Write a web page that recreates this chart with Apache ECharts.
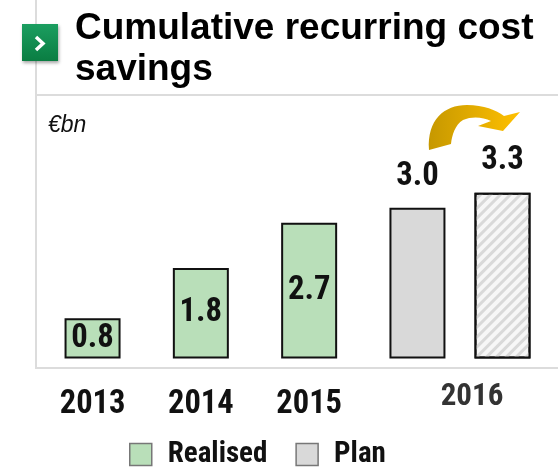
<!DOCTYPE html>
<html>
<head>
<meta charset="utf-8">
<script src="https://cdn.jsdelivr.net/npm/echarts@6/dist/echarts.min.js"></script>
<style>
  html, body { margin: 0; padding: 0; background: #fff; }
  #chart { width: 558px; height: 469px; }
</style>
</head>
<body>
<div id="chart"></div>
<script>
// values, €bn
const years = ['2013', '2014', '2015', '2016'];
const realised = [0.8, 1.8, 2.7, null];
const plan = [null, null, null, 3.0];
const revisedPlan = [3.3];
const legendNames = ['Realised', 'Plan'];
const titleText = 'Cumulative recurring cost\nsavings';
const unitText = '€bn';

const green = '#B9DFB9';
const grey = '#D9D9D9';

// the original uses a narrow bold face; take the first condensed one that is installed
const ctx = document.createElement('canvas').getContext('2d');
function textWidth(font, txt) {
  ctx.font = font;
  return ctx.measureText(txt).width;
}
function hasFont(name) {
  const probe = 'abcdefghijklmnop0123456789';
  return ['monospace', 'serif'].some(
    (fb) => textWidth(`bold 40px "${name}", ${fb}`, probe) !== textWidth(`bold 40px ${fb}`, probe)
  );
}
const narrowFace = ['Liberation Sans Narrow', 'Arial Narrow', 'Roboto Condensed', 'DejaVu Sans Condensed', 'Liberation Sans']
  .find(hasFont) || 'sans-serif';
const narrow = `"${narrowFace}", sans-serif`;
// font size that gives the text (about) the width it has in the picture
const fitSize = (txt, w) => Math.round(w / textWidth(`bold 100px ${narrow}`, txt) * 1050) / 10;

const axisSize = Math.min(34, fitSize('2013', 62.6));
const valueSize = Math.min(33, fitSize('0.8', 40.5));
const legendSize = Math.min(29, fitSize('Realised', 96.6));
const lastYearSize = Math.min(31, fitSize('2016', 64.7));

echarts.graphic.registerShape('curvedArrow', echarts.graphic.extendPath(
  'M429,150 C427,120 444,105 467,105 C484,105 496,110 504,116 L520,112 L503,131 L478,126 L491,121 C483,117 472,116 463,120 C455,125 452,135 451,144 Z',
  {}
));

const chart = echarts.init(document.getElementById('chart'));

const valueLabel = (pos, dist) => ({
  show: true,
  position: pos,
  distance: dist,
  formatter: (p) => p.value.toFixed(1),
  fontFamily: narrow,
  fontWeight: 'bold',
  fontSize: valueSize,
  color: '#111',
});

chart.setOption({
  animation: false,
  grid: [
    { left: 38.4, width: 433.2, top: 157.5, bottom: 110.5 },
    { left: 452, width: 101, top: 157.5, bottom: 110.5 },
  ],
  xAxis: [
    {
      type: 'category',
      gridIndex: 0,
      data: years,
      axisLine: { show: false },
      axisTick: { show: false },
      axisLabel: {
        margin: 30,
        fontFamily: narrow,
        fontWeight: 'bold',
        fontSize: axisSize,
        color: '#111',
        formatter: (v) => (v === years[3] ? '' : v),
      },
    },
    {
      type: 'category',
      gridIndex: 1,
      data: [years[3]],
      show: false,
    },
  ],
  yAxis: [
    { type: 'value', gridIndex: 0, min: 0, max: 4, show: false },
    { type: 'value', gridIndex: 1, min: 0, max: 4, show: false },
  ],
  legend: {
    data: legendNames,
    left: 124,
    top: 435,
    icon: 'rect',
    itemWidth: 22,
    itemHeight: 22,
    itemGap: 28,
    itemStyle: { borderColor: '#777', borderWidth: 1.5 },
    textStyle: {
      fontFamily: narrow,
      fontWeight: 'bold',
      fontSize: legendSize,
      color: '#111',
      padding: [0, 0, 0, 11],
    },
  },
  series: [
    {
      name: 'Realised',
      type: 'bar',
      stack: 'main',
      data: realised,
      barWidth: 56,
      itemStyle: { color: green, borderColor: '#111', borderWidth: 2 },
      label: valueLabel('inside', 0),
    },
    {
      name: 'Plan',
      type: 'bar',
      stack: 'main',
      data: plan,
      barWidth: 56,
      itemStyle: { color: grey, borderColor: '#111', borderWidth: 2 },
      label: valueLabel('top', 14),
    },
    {
      name: 'Plan 2016',
      type: 'bar',
      xAxisIndex: 1,
      yAxisIndex: 1,
      data: revisedPlan,
      barWidth: 56,
      itemStyle: {
        color: '#f7f7f7',
        borderColor: '#111',
        borderWidth: 2,
        decal: {
          symbol: 'rect',
          color: '#d9d9d9',
          dashArrayX: [1, 0],
          dashArrayY: [3, 4],
          rotation: -Math.PI / 4,
        },
      },
      label: valueLabel('top', 15),
    },
  ],
  graphic: [
    // frame lines
    { type: 'line', shape: { x1: 36, y1: 0, x2: 36, y2: 369 }, style: { stroke: '#dcdcdc', lineWidth: 2 } },
    { type: 'line', shape: { x1: 36, y1: 95, x2: 558, y2: 95 }, style: { stroke: '#dcdcdc', lineWidth: 2 } },
    { type: 'line', shape: { x1: 36, y1: 368, x2: 558, y2: 368 }, style: { stroke: '#dcdcdc', lineWidth: 2 } },
    // green marker
    {
      type: 'rect',
      shape: { x: 22, y: 24, width: 36, height: 37 },
      style: {
        fill: new echarts.graphic.LinearGradient(0, 0, 0, 1, [
          { offset: 0, color: '#1b9e60' },
          { offset: 1, color: '#0a7d42' },
        ]),
        shadowBlur: 3,
        shadowOffsetX: 1,
        shadowOffsetY: 2,
        shadowColor: 'rgba(0,0,0,0.35)',
      },
    },
    {
      type: 'polyline',
      shape: { points: [[36, 37], [43, 43.5], [36, 50]] },
      style: { stroke: '#fff', lineWidth: 3.5, fill: null },
    },
    {
      type: 'text',
      x: 75,
      y: 8,
      style: {
        text: titleText,
        font: 'bold 37px "Liberation Sans", Arial, sans-serif',
        lineHeight: 41,
        fill: '#000',
      },
    },
    {
      type: 'text',
      x: 48,
      y: 114,
      style: {
        text: unitText,
        font: 'italic 23px "Liberation Sans", Arial, sans-serif',
        fill: '#111',
      },
    },
    {
      type: 'text',
      x: 472,
      y: 397,
      style: {
        text: years[3],
        font: `bold ${lastYearSize}px ${narrow}`,
        fill: '#333',
        align: 'center',
        verticalAlign: 'middle',
      },
    },
    {
      type: 'curvedArrow',
      style: {
        fill: new echarts.graphic.LinearGradient(0, 0, 1, 0, [
          { offset: 0, color: '#C69800' },
          { offset: 0.45, color: '#E0AA00' },
          { offset: 1, color: '#FFC000' },
        ]),
      },
    },
  ],
});
</script>
</body>
</html>
